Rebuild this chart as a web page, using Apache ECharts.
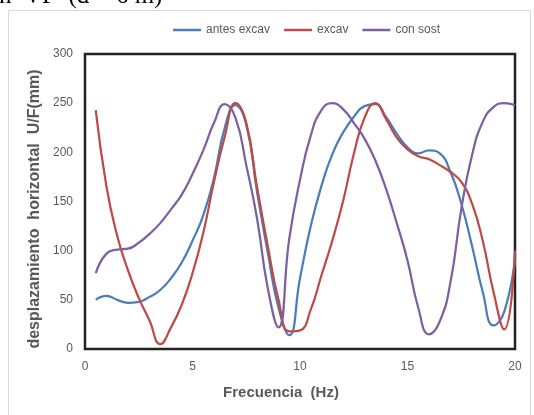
<!DOCTYPE html>
<html>
<head>
<meta charset="utf-8">
<script src="https://cdn.jsdelivr.net/npm/echarts@6/dist/echarts.min.js"></script>
<style>
  html, body { margin: 0; padding: 0; background: #fff; }
  #chart { width: 534px; height: 415px; }
</style>
</head>
<body>
<div id="chart"></div>
<script>
// Frequency samples (Hz)
const frecuencia = [0.5, 1, 1.5, 2, 2.5, 3, 3.5, 4, 4.5, 5, 5.5, 6, 6.5, 7, 7.5, 8, 8.5, 9, 9.5, 10,
  10.5, 11, 11.5, 12, 12.5, 13, 13.5, 14, 14.5, 15, 15.5, 16, 16.5, 17, 17.5, 18, 18.5, 19, 19.5, 20];

// Horizontal displacement U/F (mm) per stage
const antesExcav = [50, 54, 50, 47, 48, 53, 60, 72, 88, 110, 136, 174, 225, 248, 228, 160, 98, 42, 14, 72,
  125, 166, 198, 220, 236, 247, 249, 236, 219, 205, 199, 202, 199, 180, 148, 105, 58, 24, 38, 92];
const excav = [243, 165, 115, 80, 52, 29, 5, 22, 45, 77, 118, 170, 216, 250, 230, 165, 105, 50, 18, 19,
  40, 75, 110, 150, 198, 235, 250, 234, 215, 203, 196, 193, 187, 180, 170, 148, 110, 58, 20, 100];
const conSost = [77, 97, 101, 102, 108, 117, 128, 142, 157, 178, 202, 230, 249, 235, 187, 133, 62, 22, 112, 172,
  217, 243, 250, 244, 230, 214, 192, 163, 128, 90, 42, 15, 28, 68, 142, 197, 231, 246, 250, 248];

const seriesNames = ['antes excav', 'excav', 'con sost'];
const seriesColors = ['#4a7ebb', '#be4b48', '#7d60a0'];
const xTicks = { min: 0, max: 20, step: 5 };
const yTicks = { min: 0, max: 300, step: 50 };

const pairs = ys => frecuencia.map((f, i) => [f, ys[i]]);
const seriesData = [antesExcav, excav, conSost];

const labelFont = 'Liberation Sans, Arial, sans-serif';
const grey = '#595959';

const chart = echarts.init(document.getElementById('chart'), null, { renderer: 'canvas' });

chart.setOption({
  animation: false,
  backgroundColor: '#ffffff',
  legend: {
    top: 19,
    left: 168,
    icon: 'rect',
    itemWidth: 28,
    itemHeight: 2.5,
    itemGap: 14,
    textStyle: { color: grey, fontSize: 12, fontFamily: labelFont },
    data: seriesNames
  },
  grid: {
    left: 85, right: 19, top: 54, bottom: 66,
    show: true,
    borderColor: '#222',
    borderWidth: 2.5,
    backgroundColor: 'transparent'
  },
  xAxis: {
    type: 'value',
    min: xTicks.min, max: xTicks.max, interval: xTicks.step,
    axisLine: { show: false },
    axisTick: { show: false },
    splitLine: { show: false },
    axisLabel: { color: grey, fontSize: 12, fontFamily: labelFont, margin: 12 }
  },
  yAxis: {
    type: 'value',
    min: yTicks.min, max: yTicks.max, interval: yTicks.step,
    axisLine: { show: false },
    axisTick: { show: false },
    splitLine: { show: false },
    axisLabel: { color: grey, fontSize: 12, fontFamily: labelFont, margin: 12 }
  },
  series: seriesData.map((ys, i) => ({
    name: seriesNames[i],
    type: 'line',
    data: pairs(ys),
    smooth: 0.5,
    symbol: 'none',
    showSymbol: false,
    lineStyle: { color: seriesColors[i], width: 2.25 },
    itemStyle: { color: seriesColors[i] },
    z: 3
  })),
  graphic: [
    {
      type: 'rect',
      shape: { x: 8.5, y: 10.5, width: 522, height: 430 },
      style: { fill: 'none', stroke: '#d9d9d9', lineWidth: 1 },
      silent: true, z: 0
    },
    {
      type: 'text',
      x: -1, y: -4,
      style: {
        text: 'n  VF  (d = 6 m)',
        font: '25px "Liberation Serif", "Times New Roman", serif',
        fill: '#000',
        verticalAlign: 'middle',
        align: 'left'
      },
      silent: true
    },
    {
      type: 'text',
      x: 281, y: 393,
      style: {
        text: 'Frecuencia  (Hz)',
        font: 'bold 15px ' + labelFont,
        fill: grey,
        align: 'center',
        verticalAlign: 'middle'
      },
      silent: true
    },
    {
      type: 'text',
      x: 35, y: 209,
      rotation: Math.PI / 2,
      style: {
        text: 'desplazamiento  horizontal  U/F(mm)',
        font: 'bold 16px ' + labelFont,
        fill: grey,
        align: 'center',
        verticalAlign: 'middle'
      },
      silent: true
    }
  ]
});
</script>
</body>
</html>
